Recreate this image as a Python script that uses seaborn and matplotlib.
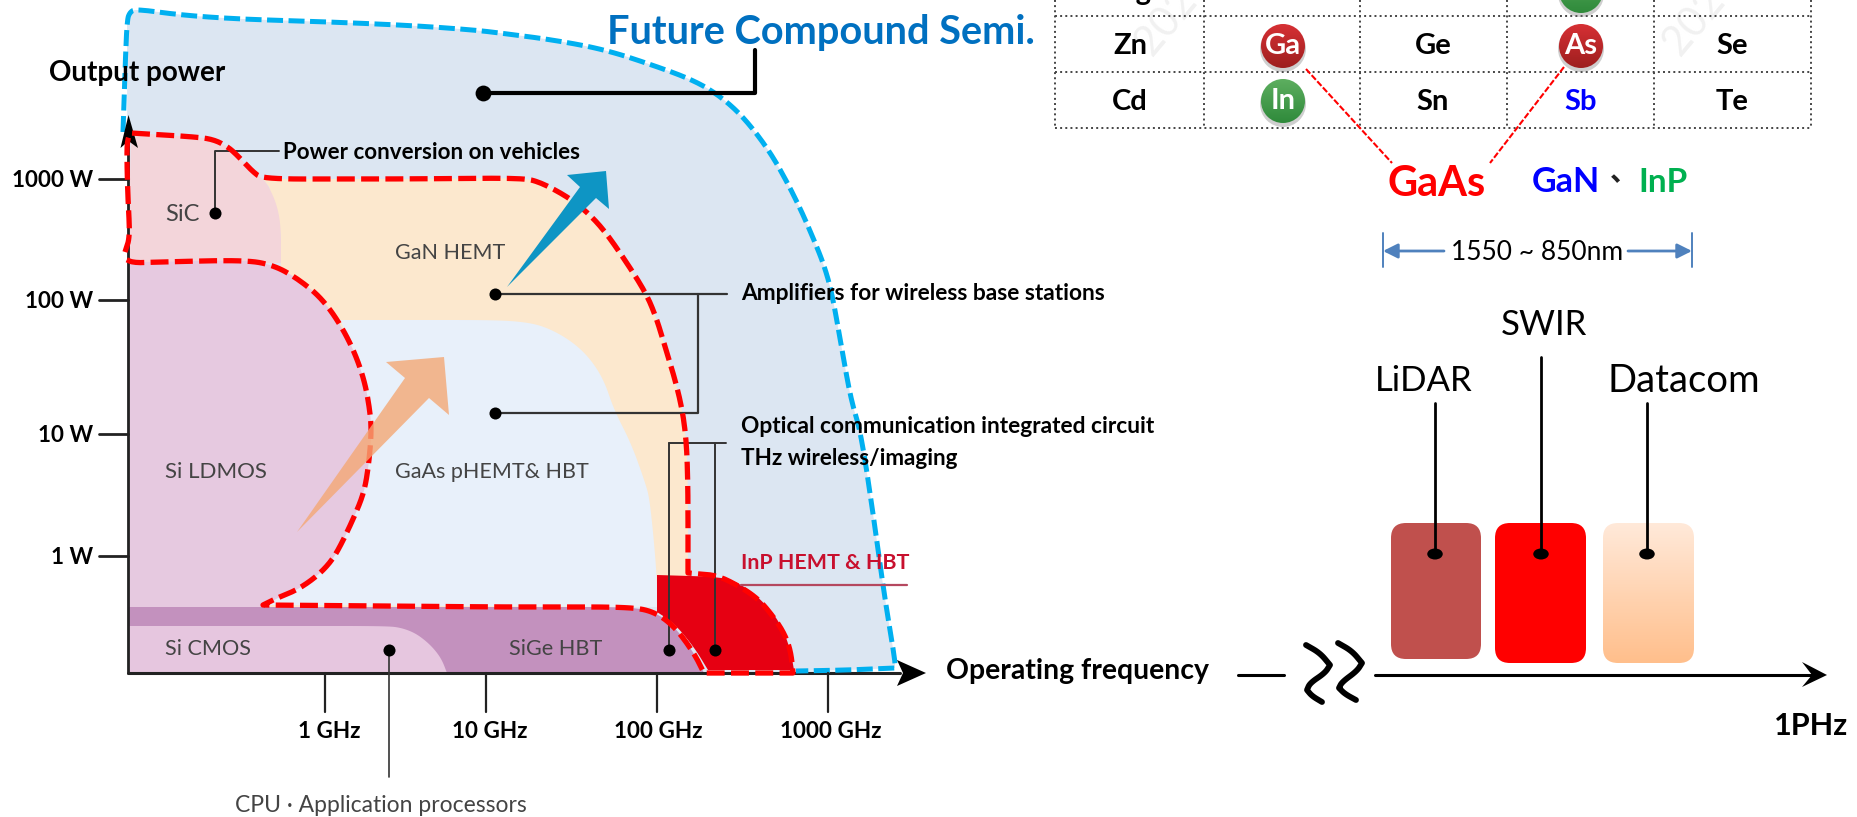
import numpy as np
import matplotlib
matplotlib.use("Agg")
import matplotlib.pyplot as plt
from matplotlib.colors import LinearSegmentedColormap
from matplotlib.patches import Circle, Ellipse, FancyBboxPatch
import seaborn as sns

# outlines, in picture pixels
blue_x = [123, 125, 127, 130, 136, 180, 237, 300, 356, 420, 474, 500, 554, 607, 661, 690, 711, 732, 750, 770, 786, 801, 814, 824, 832, 842, 851, 861, 873, 885, 895, 895, 850, 796]
blue_y = [132, 70, 20, 12, 9, 15, 19, 21, 23, 26, 30, 33, 40, 50, 68, 79, 90, 106, 125, 152, 180, 210, 240, 265, 293, 350, 400, 433, 513, 600, 660, 668, 670, 671]

red_x = [125, 130, 128, 127, 127, 131, 198, 215, 228, 237, 253, 263, 395, 522, 540, 568, 587, 604, 625, 646, 656, 664, 679, 686, 688, 688, 700, 713, 728, 757, 776, 786, 791, 793, 704, 694, 675, 655, 631, 505, 263, 277, 297, 316, 330, 340, 356, 364, 368, 371, 371, 364, 348, 324, 297, 273, 245, 158, 134, 125]
red_y = [252, 237, 200, 167, 140, 133, 137, 140, 147, 155, 172, 179, 179, 178, 182, 197, 212, 230, 260, 293, 317, 343, 393, 433, 483, 573, 574, 575, 580, 597, 620, 637, 653, 673, 673, 653, 627, 612, 607, 607, 605, 598, 590, 577, 563, 547, 513, 492, 470, 440, 417, 377, 337, 300, 278, 265, 260, 262, 263, 259]

gan_x = [263, 395, 522, 540, 568, 587, 604, 625, 646, 656, 664, 679, 686, 688, 688, 263, 281, 281, 269]
gan_y = [179, 179, 178, 182, 197, 212, 230, 260, 293, 317, 343, 393, 433, 483, 607, 607, 263, 227, 187]

gaas_x = [340, 494, 525, 546, 570, 589, 604, 614, 631, 645, 650, 657, 657, 263, 277, 297, 316, 330, 340, 356, 364, 368, 371, 371, 364, 348]
gaas_y = [320, 320, 322, 327, 340, 357, 380, 410, 443, 482, 500, 575, 607, 605, 598, 590, 577, 563, 547, 513, 492, 470, 440, 417, 377, 337]

sic_x = [128, 131, 198, 215, 228, 237, 253, 263, 269, 277, 281, 281, 128]
sic_y = [263, 133, 137, 140, 147, 155, 172, 179, 187, 205, 227, 263, 263]

ldmos_x = [128, 128, 158, 245, 273, 297, 324, 348, 364, 371, 371, 368, 364, 356, 340, 330, 316, 297, 277, 263]
ldmos_y = [607, 262, 262, 260, 265, 278, 300, 337, 377, 417, 440, 470, 492, 513, 547, 563, 577, 590, 598, 607]

sige_x = [128, 631, 655, 675, 694, 704, 128]
sige_y = [607, 607, 612, 627, 653, 673, 673]

cmos_x = [128, 388, 402, 415, 426, 435, 442, 447, 128]
cmos_y = [626, 626, 628, 633, 641, 650, 660, 673, 673]

inp_x = [657, 723, 738, 752, 765, 776, 785, 791, 794, 708, 694, 674, 657]
inp_y = [575, 577, 583, 592, 604, 617, 634, 653, 670, 670, 647, 623, 612]

blue_arrow_x = [507, 580, 567, 606, 609, 596]
blue_arrow_y = [287, 187, 175, 171, 209, 198]
orange_arrow_x = [297, 405, 386, 444, 449, 429]
orange_arrow_y = [532, 378, 362, 357, 415, 398]

# axis ticks and labels
power_labels = ["1000 W", "100 W", "10 W", "1 W"]
power_pos = [179, 300, 434, 556]
freq_labels = ["1 GHz", "10 GHz", "100 GHz", "1000 GHz"]
freq_pos = [325, 486, 657, 828]
freq_label_pos = [329, 490, 658, 831]

# periodic table
table_rows = [["Mg", "Al", "Si", "P", "S"],
              ["Zn", "Ga", "Ge", "As", "Se"],
              ["Cd", "In", "Sn", "Sb", "Te"]]
col_centers = [1130, 1283, 1433, 1581, 1732]
row_centers = [-9, 45, 101]
table_cols = [1055, 1204, 1360, 1507, 1654, 1811]
table_lines = [16, 72, 128]

# bands on the right hand axis
band_names = ["LiDAR", "SWIR", "Datacom"]
band_left = [1391, 1495, 1603]
band_right = [1481, 1586, 1694]
band_bottom = [659, 663, 663]
band_line_x = [1435, 1541, 1647]
band_line_top = [403, 357, 403]

# break marks on the right hand axis
break1_x = [1306, 1320, 1330, 1325, 1310, 1307, 1312, 1322]
break1_y = [645, 653, 665, 673, 683, 690, 696, 702]
break2_x = [1338, 1352, 1362, 1357, 1342, 1339, 1345, 1356]
break2_y = [643, 651, 663, 671, 682, 688, 694, 700]

sns.set_theme(style="white")
plt.rcParams["font.family"] = ["Lato", "Noto Sans CJK SC", "DejaVu Sans"]

fig = plt.figure(figsize=(18.58, 8.17), dpi=100)
ax = fig.add_axes([0, 0, 1, 1])


# rounds the shallow bends of an outline, sharp corners stay as they are
def smooth(xs, ys, r=40):
    pts = np.column_stack([xs, ys]).astype(float)
    t = np.linspace(0, 1, 9).reshape(-1, 1)
    out = [pts[:1]]
    for i in range(1, len(pts) - 1):
        v1 = pts[i - 1] - pts[i]
        v2 = pts[i + 1] - pts[i]
        n1, n2 = np.hypot(*v1), np.hypot(*v2)
        turn = 180 - np.degrees(np.arccos(np.clip(np.dot(v1, v2) / (n1 * n2), -1, 1)))
        if turn > 50:
            out.append(pts[i:i + 1])
            continue
        a = pts[i] + v1 * min(0.5, r / n1)
        b = pts[i] + v2 * min(0.5, r / n2)
        out.append((1 - t) ** 2 * a + 2 * (1 - t) * t * pts[i] + t ** 2 * b)
    out.append(pts[-1:])
    out = np.vstack(out)
    return out[:, 0], out[:, 1]


def region(xs, ys, color, z):
    sx, sy = smooth(xs, ys)
    ax.fill(sx, sy, color=color, lw=0, zorder=z)


def outline(xs, ys, color, lw=3.6, dash=(3.2, 1.1), z=6):
    sx, sy = smooth(xs, ys)
    sns.lineplot(x=sx, y=sy, sort=False, estimator=None, color=color, linewidth=lw,
                 linestyle=(0, dash), ax=ax, zorder=z, legend=False)


def line(xs, ys, color="#333333", lw=1.5, z=5):
    sns.lineplot(x=xs, y=ys, sort=False, estimator=None, color=color, linewidth=lw,
                 ax=ax, zorder=z, legend=False)


def label(x, y, s, size, color="black", weight="normal", ha="left", z=8):
    ax.text(x, y + 1, s, fontsize=size, color=color, fontweight=weight, ha=ha, va="center", zorder=z)


def gradient(patch, extent, top, bottom, z):
    cmap = LinearSegmentedColormap.from_list("g", [top, bottom])
    im = ax.imshow(np.linspace(0, 1, 64).reshape(-1, 1), cmap=cmap, extent=extent,
                   aspect="auto", zorder=z, origin="upper")
    ax.add_patch(patch)
    patch.set_visible(False)
    im.set_clip_path(patch)


def ball(cx, cy, s, top, bottom):
    ax.add_patch(Ellipse((cx, cy + 3), 46, 46, color="#777777", alpha=0.35, lw=0, zorder=3))
    gradient(Circle((cx, cy), 22), (cx - 22, cx + 22, cy + 22, cy - 22), top, bottom, 4)
    label(cx, cy - 1, s, 21, color="white", weight="bold", ha="center")


# regions
region(blue_x[2:] + [895, 128], blue_y[2:] + [673, 673], "#DCE6F2", 1)
region(gan_x, gan_y, "#FCE8CE", 1.1)
region(gaas_x, gaas_y, "#E8F0FA", 1.2)
region(sic_x, sic_y, "#F3D5DA", 1.3)
region(ldmos_x, ldmos_y, "#E6C9E0", 1.4)
region(sige_x, sige_y, "#C391BE", 1.5)
region(cmos_x, cmos_y, "#E6C6DF", 1.6)
region(inp_x, inp_y, "#E60012", 1.7)

# axes of the left chart
line([128.5, 128.5], [673, 140], color="#222222", lw=2, z=3)
line([128.5, 900], [673, 673], color="#222222", lw=2.2, z=3)
ax.fill([128.5, 138, 128.5, 120.5], [115, 148, 141, 148], color="black", lw=0, zorder=5)
ax.fill([926, 897, 903, 897], [673, 660, 673, 686], color="black", lw=0, zorder=5)
for s, y in zip(power_labels, power_pos):
    line([99, 128], [y, y], color="#222222", lw=2)
    label(93, y, s, 16.2, weight="bold", ha="right")
for s, x, xl in zip(freq_labels, freq_pos, freq_label_pos):
    line([x, x], [673, 712], color="#222222", lw=1.6)
    label(xl, 730, s, 16.2, weight="bold", ha="center")

# leader lines
line([483, 755, 755], [93, 93, 50], color="black", lw=3)
line([215.5, 215.5, 279], [213, 151, 151], lw=1.4)
line([495.5, 727], [294, 294], lw=1.6)
line([495.5, 698, 698], [413, 413, 294], lw=1.6)
line([389.5, 389.5], [650, 777], lw=1.2)
line([669, 669], [650, 443], lw=1.4)
line([715, 715], [650, 443], lw=1.4)
line([669, 726], [443, 443], lw=1.4)
line([741, 907], [585, 585], color="#B5485F", lw=1.6)
sns.scatterplot(x=[215.5, 495.5, 495.5, 389.5, 669, 715], y=[213, 294, 413, 650, 650, 650],
                s=75, color="black", linewidth=0, ax=ax, zorder=7, legend=False)
sns.scatterplot(x=[483], y=[93], s=130, color="black", linewidth=0, ax=ax, zorder=7, legend=False)

# dashed outlines
outline(blue_x, blue_y, "#00B0F0", z=4.5)
outline(red_x, red_y, "#FF0000", lw=3.8, dash=(3.4, 1.2))

# growth arrows
ax.fill(blue_arrow_x, blue_arrow_y, color="#0E95C4", lw=0, zorder=7)
ax.fill(orange_arrow_x, orange_arrow_y, color="#F4A875", alpha=0.8, lw=0, zorder=7)

# text of the left chart
label(49, 72, "Output power", 20, weight="bold")
label(283, 151, "Power conversion on vehicles", 16.1, weight="bold")
label(741, 292, "Amplifiers for wireless base stations", 16.4, weight="bold")
label(741, 425, "Optical communication integrated circuit", 16.4, weight="bold")
label(741, 457, "THz wireless/imaging", 16.2, weight="bold")
label(741, 562, "InP HEMT & HBT", 15.4, color="#C8102E", weight="bold")
label(946, 670, "Operating frequency", 20.4, weight="bold")
label(165, 213, "SiC", 17, color="#444444")
label(395, 252, "GaN HEMT", 15.5, color="#444444")
label(395, 471, "GaAs pHEMT& HBT", 15.5, color="#444444")
label(165, 471, "Si LDMOS", 16, color="#444444")
label(165, 648, "Si CMOS", 15.6, color="#444444")
label(509, 648, "SiGe HBT", 15.6, color="#444444")
label(235, 804, "CPU \u00b7 Application processors", 16.5, color="#444444")
label(607, 31, "Future Compound Semi.", 28.6, color="#0070C0", weight="bold")

# periodic table
ax.hlines(table_lines, table_cols[0], table_cols[-1], colors="#444444", linestyles=":", lw=1.4, zorder=2)
ax.vlines(table_cols, 0, table_lines[-1], colors="#444444", linestyles=":", lw=1.4, zorder=2)
ax.text(1166, 22, "202", fontsize=30, color="#F1F1F1", rotation=50, ha="center", va="center", zorder=1)
ax.text(1694, 22, "202", fontsize=30, color="#F1F1F1", rotation=50, ha="center", va="center", zorder=1)
ball(1581, -9, "P", "#5DAE5F", "#2F8A3B")
ball(1283, 46, "Ga", "#D63034", "#9E1F1F")
ball(1581, 46, "As", "#D63034", "#9E1F1F")
ball(1283, 101, "In", "#5DAE5F", "#2F8A3B")
for row, yc in zip(table_rows, row_centers):
    for s, xc in zip(row, col_centers):
        if s in ("Ga", "As", "In", "P"):
            continue
        c = "#0000FF" if s in ("Al", "Sb") else "black"
        label(xc, yc, s, 21, color=c, weight="bold", ha="center")
sns.lineplot(x=[1306, 1392], y=[69, 163], sort=False, estimator=None, color="#FF0000",
             linewidth=1.5, linestyle=(0, (3, 1)), ax=ax, zorder=3, legend=False)
sns.lineplot(x=[1564, 1490], y=[67, 163], sort=False, estimator=None, color="#FF0000",
             linewidth=1.5, linestyle=(0, (3, 1)), ax=ax, zorder=3, legend=False)
label(1437, 183, "GaAs", 30, color="#FF0000", weight="bold", ha="center")
label(1532, 181, "GaN", 24.5, color="#0000FF", weight="bold")
label(1610, 172, "\u3001", 20, color="#222222", weight="bold")
label(1638, 181, "InP", 24, color="#00B050", weight="bold")

# wavelength span
line([1383, 1383], [233, 267], color="#4F81BD", lw=1.4)
line([1692, 1692], [233, 267], color="#4F81BD", lw=1.4)
ax.annotate("", xy=(1383, 251), xytext=(1444, 251), zorder=5,
            arrowprops=dict(arrowstyle="-|>", color="#4F81BD", lw=2, shrinkA=0, shrinkB=0, mutation_scale=22))
ax.annotate("", xy=(1692, 251), xytext=(1628, 251), zorder=5,
            arrowprops=dict(arrowstyle="-|>", color="#4F81BD", lw=2, shrinkA=0, shrinkB=0, mutation_scale=22))
label(1537, 251, "1550 ~ 850nm", 19, ha="center")

# bands
ax.add_patch(FancyBboxPatch((1391 + 15, 523 + 15), band_right[0] - 1391 - 30, band_bottom[0] - 523 - 30,
                            boxstyle="round,pad=15", fc="#C0504D", ec="none", zorder=2))
ax.add_patch(FancyBboxPatch((1495 + 15, 523 + 15), band_right[1] - 1495 - 30, band_bottom[1] - 523 - 30,
                            boxstyle="round,pad=15", fc="#FF0000", ec="none", zorder=2))
gradient(FancyBboxPatch((1603 + 15, 523 + 15), band_right[2] - 1603 - 30, band_bottom[2] - 523 - 30,
                        boxstyle="round,pad=15", transform=ax.transData),
         (band_left[2], band_right[2], band_bottom[2], 523), "#FFE9D9", "#FFBF8C", 2)
for name, x, top in zip(band_names, band_line_x, band_line_top):
    line([x, x], [top, 554], color="black", lw=2)
    ax.add_patch(Ellipse((x, 554), 15.5, 11, color="black", lw=0, zorder=7))
label(1544, 324, "SWIR", 25, ha="center")
label(1424, 380, "LiDAR", 25, ha="center")
label(1684, 380, "Datacom", 27.5, ha="center")

# broken frequency axis
line([1238, 1284], [675, 675], color="black", lw=2.2)
line([1375, 1815], [675, 675], color="black", lw=2.2)
ax.fill([1827, 1802, 1812, 1802], [675, 662, 675, 687], color="black", lw=0, zorder=5)
sx, sy = smooth(break1_x, break1_y, r=12)
line(sx, sy, color="black", lw=4.2)
sx, sy = smooth(break2_x, break2_y, r=12)
line(sx, sy, color="black", lw=4.2)
label(1848, 725, "1PHz", 22, weight="bold", ha="right")

ax.set_xlim(0, 1858)
ax.set_ylim(817, 0)
ax.set_xlabel("")
ax.set_ylabel("")
ax.axis("off")

fig.savefig("out.png", dpi=100, facecolor="white")
